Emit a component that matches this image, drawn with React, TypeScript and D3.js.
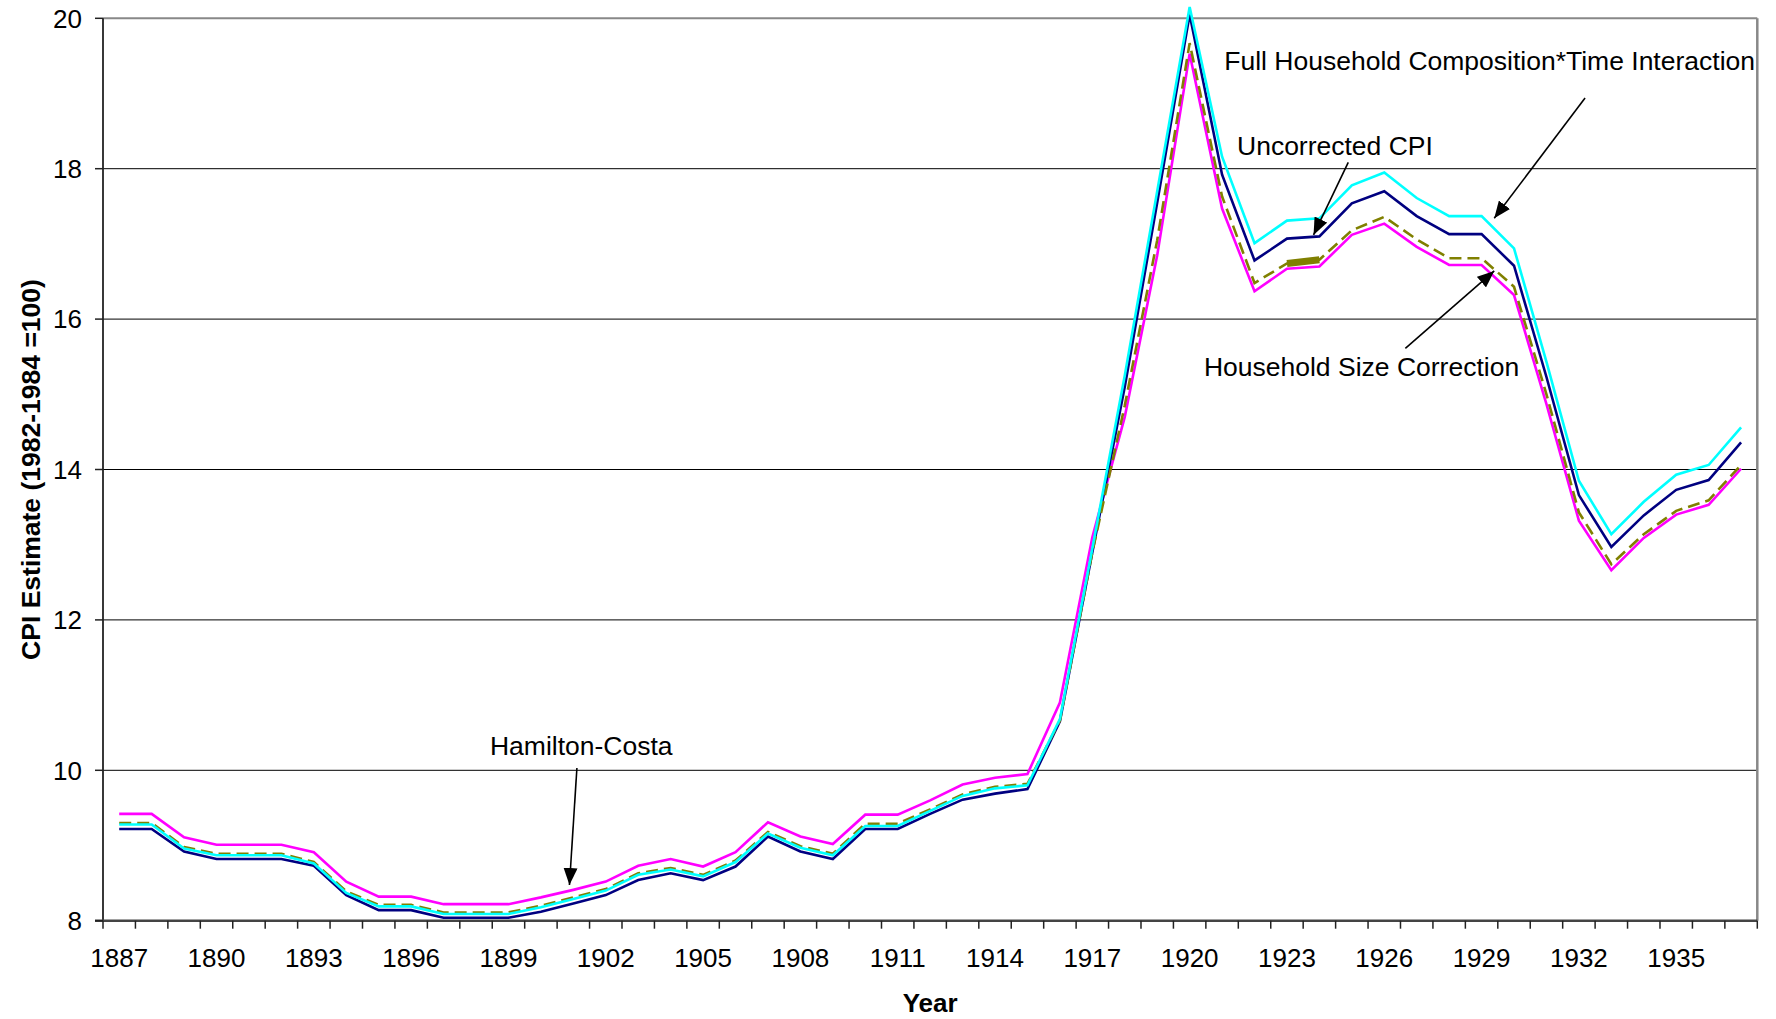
import * as d3 from 'd3';

const years = d3.range(1887, 1938);

// Hamilton-Costa (magenta)
const hamiltonCosta = [
  9.42, 9.42, 9.11, 9.01, 9.01, 9.01, 8.91, 8.52, 8.32, 8.32,
  8.22, 8.22, 8.22, 8.31, 8.41, 8.52, 8.73, 8.82, 8.72, 8.91,
  9.31, 9.12, 9.02, 9.41, 9.41, 9.6, 9.81, 9.9, 9.95, 10.9,
  13.1, 14.7, 16.85, 19.53, 17.47, 16.37, 16.67, 16.7, 17.12, 17.27,
  16.96, 16.72, 16.72, 16.32, 14.87, 13.32, 12.66, 13.09, 13.4, 13.53,
  14.01,
];

// Uncorrected CPI (navy)
const uncorrected = [
  9.22, 9.22, 8.92, 8.82, 8.82, 8.82, 8.73, 8.34, 8.14, 8.14,
  8.04, 8.04, 8.04, 8.12, 8.23, 8.34, 8.54, 8.63, 8.54, 8.72,
  9.12, 8.92, 8.82, 9.22, 9.22, 9.42, 9.61, 9.69, 9.75, 10.65,
  12.9, 15.1, 17.55, 20.05, 17.92, 16.78, 17.07, 17.1, 17.54, 17.7,
  17.37, 17.13, 17.13, 16.71, 15.23, 13.66, 12.97, 13.39, 13.73, 13.86,
  14.36,
];

// Household size correction (olive, dashed)
const sizeCorrection = [
  9.3, 9.3, 8.98, 8.89, 8.89, 8.89, 8.78, 8.39, 8.21, 8.21,
  8.11, 8.11, 8.11, 8.2, 8.31, 8.42, 8.63, 8.7, 8.61, 8.8,
  9.18, 8.99, 8.89, 9.29, 9.29, 9.48, 9.68, 9.78, 9.82, 10.66,
  12.9, 14.85, 17.05, 19.67, 17.63, 16.48, 16.74, 16.79, 17.18, 17.36,
  17.06, 16.81, 16.81, 16.43, 15.0, 13.43, 12.74, 13.14, 13.45, 13.59,
  14.06,
];

// Full household composition * time interaction (cyan)
const fullComposition = [
  9.28, 9.28, 8.96, 8.87, 8.87, 8.87, 8.76, 8.37, 8.19, 8.19,
  8.09, 8.09, 8.09, 8.18, 8.29, 8.4, 8.61, 8.68, 8.59, 8.78,
  9.16, 8.97, 8.87, 9.26, 9.26, 9.46, 9.66, 9.76, 9.8, 10.68,
  12.95, 15.25, 17.7, 20.15, 18.16, 17.01, 17.31, 17.34, 17.78, 17.95,
  17.61, 17.37, 17.37, 16.94, 15.43, 13.85, 13.14, 13.57, 13.93, 14.06,
  14.56,
];

const yTicks = [8, 10, 12, 14, 16, 18, 20];
const xLabelYears = d3.range(1887, 1938, 3);

// annotations in data units: [year, value]
const annotations = [
  { text: 'Full Household Composition*Time Interaction', at: [1937.43, 19.31], anchor: 'end', from: [1932.19, 18.94], to: [1929.39, 17.34] },
  { text: 'Uncorrected CPI', at: [1921.46, 18.18], anchor: 'start', from: [1924.89, 18.085], to: [1923.82, 17.12] },
  { text: 'Household Size Correction', at: [1920.44, 15.25], anchor: 'start', from: [1926.65, 15.61], to: [1929.39, 16.64] },
  { text: 'Hamilton-Costa', at: [1898.43, 10.2], anchor: 'start', from: [1901.11, 10.03], to: [1900.88, 8.475] },
];

const W = 1776;
const H = 1019;
const left = 103;
const right = 1757.3;
const top = 18.3;
const bottom = 920.7;
const font = '"Liberation Sans", Arial, sans-serif';

export default function App() {
  const x = d3.scaleLinear([1886.5, 1937.5], [left, right]);
  const y = d3.scaleLinear([8, 20], [bottom, top]);
  const line = d3.line<number>((d, i) => x(years[i]), (d) => y(d));
  const thickIdx = [1923 - 1887, 1924 - 1887];
  const thickSeg = d3.line<number>((d) => x(years[d]), (d) => y(sizeCorrection[d]))(thickIdx);
  const boundaries = d3.range(1886.5, 1938, 1);

  return (
    <svg width={W} height={H} style={{ position: 'absolute', left: 0, top: 0, background: '#fff' }} fontFamily={font}>
      <defs>
        <marker id="ah" markerUnits="userSpaceOnUse" markerWidth="18" markerHeight="14" refX="17" refY="7" orient="auto">
          <path d="M0,0 L17,7 L0,14 Z" fill="#000" />
        </marker>
      </defs>
      {/* gridlines */}
      {yTicks.slice(1, -1).map((t) => (
        <line key={t} x1={left} x2={right} y1={y(t)} y2={y(t)} stroke="#000" strokeWidth={1} />
      ))}
      {/* plot border top / right */}
      <line x1={left} x2={right} y1={y(20)} y2={y(20)} stroke="#888" strokeWidth={2} />
      <line x1={right} x2={right} y1={top} y2={bottom} stroke="#888" strokeWidth={2.5} />
      {/* series */}
      <path d={line(hamiltonCosta) ?? ''} fill="none" stroke="#FF00FF" strokeWidth={2.6} />
      <path d={line(uncorrected) ?? ''} fill="none" stroke="#000080" strokeWidth={2.6} />
      <path d={line(sizeCorrection) ?? ''} fill="none" stroke="#808000" strokeWidth={2.6} strokeDasharray="12,6" />
      <path d={thickSeg ?? ''} fill="none" stroke="#808000" strokeWidth={7} />
      <path d={line(fullComposition) ?? ''} fill="none" stroke="#00FFFF" strokeWidth={2.6} />
      {/* axes */}
      <line x1={left} x2={left} y1={top} y2={bottom} stroke="#222" strokeWidth={1.8} />
      <line x1={left - 8} x2={right} y1={bottom} y2={bottom} stroke="#444" strokeWidth={2.4} />
      {yTicks.map((t) => (
        <g key={t}>
          <line x1={left - 8} x2={left} y1={y(t)} y2={y(t)} stroke="#222" strokeWidth={1.5} />
          <text x={82} y={y(t)} dy="0.36em" textAnchor="end" fontSize={26} fill="#000">
            {t}
          </text>
        </g>
      ))}
      {boundaries.map((b) => (
        <line key={b} x1={x(b)} x2={x(b)} y1={bottom} y2={bottom + 8} stroke="#222" strokeWidth={1.5} />
      ))}
      {xLabelYears.map((yr) => (
        <text key={yr} x={x(yr)} y={967} textAnchor="middle" fontSize={26} fill="#000">
          {yr}
        </text>
      ))}
      {/* axis titles */}
      <text x={(left + right) / 2} y={1012} textAnchor="middle" fontSize={26} fontWeight="bold">
        Year
      </text>
      <text transform={`translate(40,${(top + bottom) / 2}) rotate(-90)`} textAnchor="middle" fontSize={26.5} fontWeight="bold">
        CPI Estimate (1982-1984 =100)
      </text>
      {/* annotations */}
      {annotations.map((a) => (
        <g key={a.text}>
          <text x={x(a.at[0])} y={y(a.at[1])} textAnchor={a.anchor} fontSize={26.5} fill="#000">
            {a.text}
          </text>
          <line
            x1={x(a.from[0])}
            y1={y(a.from[1])}
            x2={x(a.to[0])}
            y2={y(a.to[1])}
            stroke="#000"
            strokeWidth={1.6}
            markerEnd="url(#ah)"
          />
        </g>
      ))}
    </svg>
  );
}
